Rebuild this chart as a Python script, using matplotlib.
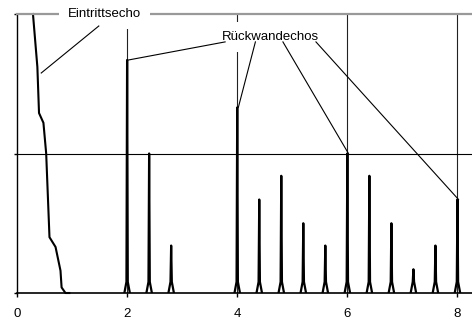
import matplotlib
matplotlib.use("Agg")
import matplotlib.pyplot as plt

plt.rcParams['font.family'] = ['Liberation Sans', 'DejaVu Sans']

# entry echo (Eintrittsecho)
entry_x = [0.29, 0.37, 0.40, 0.48, 0.53, 0.59, 0.70, 0.79, 0.81, 0.88, 0.95]
entry_y = [2.00, 1.62, 1.29, 1.22, 1.00, 0.40, 0.33, 0.16, 0.04, 0.00, 0.00]

# back wall echoes (Rückwandechos)
echo_pos = [2.0, 2.4, 2.8, 4.0, 4.4, 4.8, 5.2, 5.6, 6.0, 6.4, 6.8, 7.2, 7.6, 8.0]
echo_height = [1.67, 1.0, 0.34, 1.33, 0.67, 0.84, 0.5, 0.34, 1.0, 0.84, 0.5, 0.17, 0.34, 0.67]

# spike outline: x offsets and base height
spike_dx = [-0.05, -0.012, 0.0, 0.012, 0.05]
spike_base = 0.08

xticks = [0, 2, 4, 6, 8]

# label texts, positions and start points of the pointer lines
entry_label = "Eintrittsecho"
entry_label_xy = (1.59, 2.0)
entry_line = [(1.486, 1.914), (0.44, 1.577)]

wall_label = "Rückwandechos"
wall_label_xy = (4.61, 1.835)
wall_starts = [(3.78, 1.80), (4.33, 1.80), (4.83, 1.80), (5.43, 1.80)]
wall_targets = [2.0, 4.0, 6.0, 8.0]

fig = plt.figure(figsize=(4.72, 3.2), dpi=100)
ax = fig.add_axes([17 / 472, 27 / 320, 1 - 17 / 472 + 0.01, (293 - 14) / 320])

ax.set_xlim(0, 8.35)
ax.set_ylim(0, 2.0)

# grid
for x in xticks[1:]:
    ax.axvline(x, color='#222222', lw=0.8, zorder=1)
ax.axhline(1.0, color='black', lw=0.8, zorder=1)

# entry echo
ax.plot(entry_x, entry_y, color='black', lw=1.5, zorder=2, clip_on=False,
        solid_joinstyle='round')

# back wall echoes
for p, h in zip(echo_pos, echo_height):
    xs = [p + d for d in spike_dx]
    ys = [0, min(spike_base, h * 0.5), h, min(spike_base, h * 0.5), 0]
    ax.plot(xs, ys, color='black', lw=1.6, zorder=2, solid_joinstyle='round')

# labels with white boxes that hide the grid and the top line
box = dict(boxstyle='square,pad=0.65', fc='white', ec='none')
ax.text(entry_label_xy[0], entry_label_xy[1], entry_label, ha='center', va='center',
        fontsize=9.5, bbox=box, zorder=3, clip_on=False)
ax.text(wall_label_xy[0], wall_label_xy[1], wall_label, ha='center', va='center',
        fontsize=9.5, bbox=box, zorder=3)

# pointer lines
ax.plot([entry_line[0][0], entry_line[1][0]], [entry_line[0][1], entry_line[1][1]],
        color='black', lw=0.8, zorder=4)
for (sx, sy), t in zip(wall_starts, wall_targets):
    h = echo_height[echo_pos.index(t)]
    ax.plot([sx, t + 0.02], [sy, h], color='black', lw=0.8, zorder=4)

# spines and ticks
ax.spines['right'].set_visible(False)
ax.spines['top'].set_color('#999999')
ax.spines['top'].set_linewidth(1.6)
ax.spines['left'].set_linewidth(1.0)
ax.spines['bottom'].set_linewidth(1.2)
ax.set_xticks(xticks)
ax.set_xticklabels([str(v) for v in xticks])
ax.set_yticks([0, 1, 2])
ax.set_yticklabels([])
ax.tick_params(axis='x', direction='out', length=3, width=1, labelsize=9.5, pad=8)
ax.tick_params(axis='y', direction='out', length=2.5, width=1)

fig.savefig("out.png", dpi=100)
